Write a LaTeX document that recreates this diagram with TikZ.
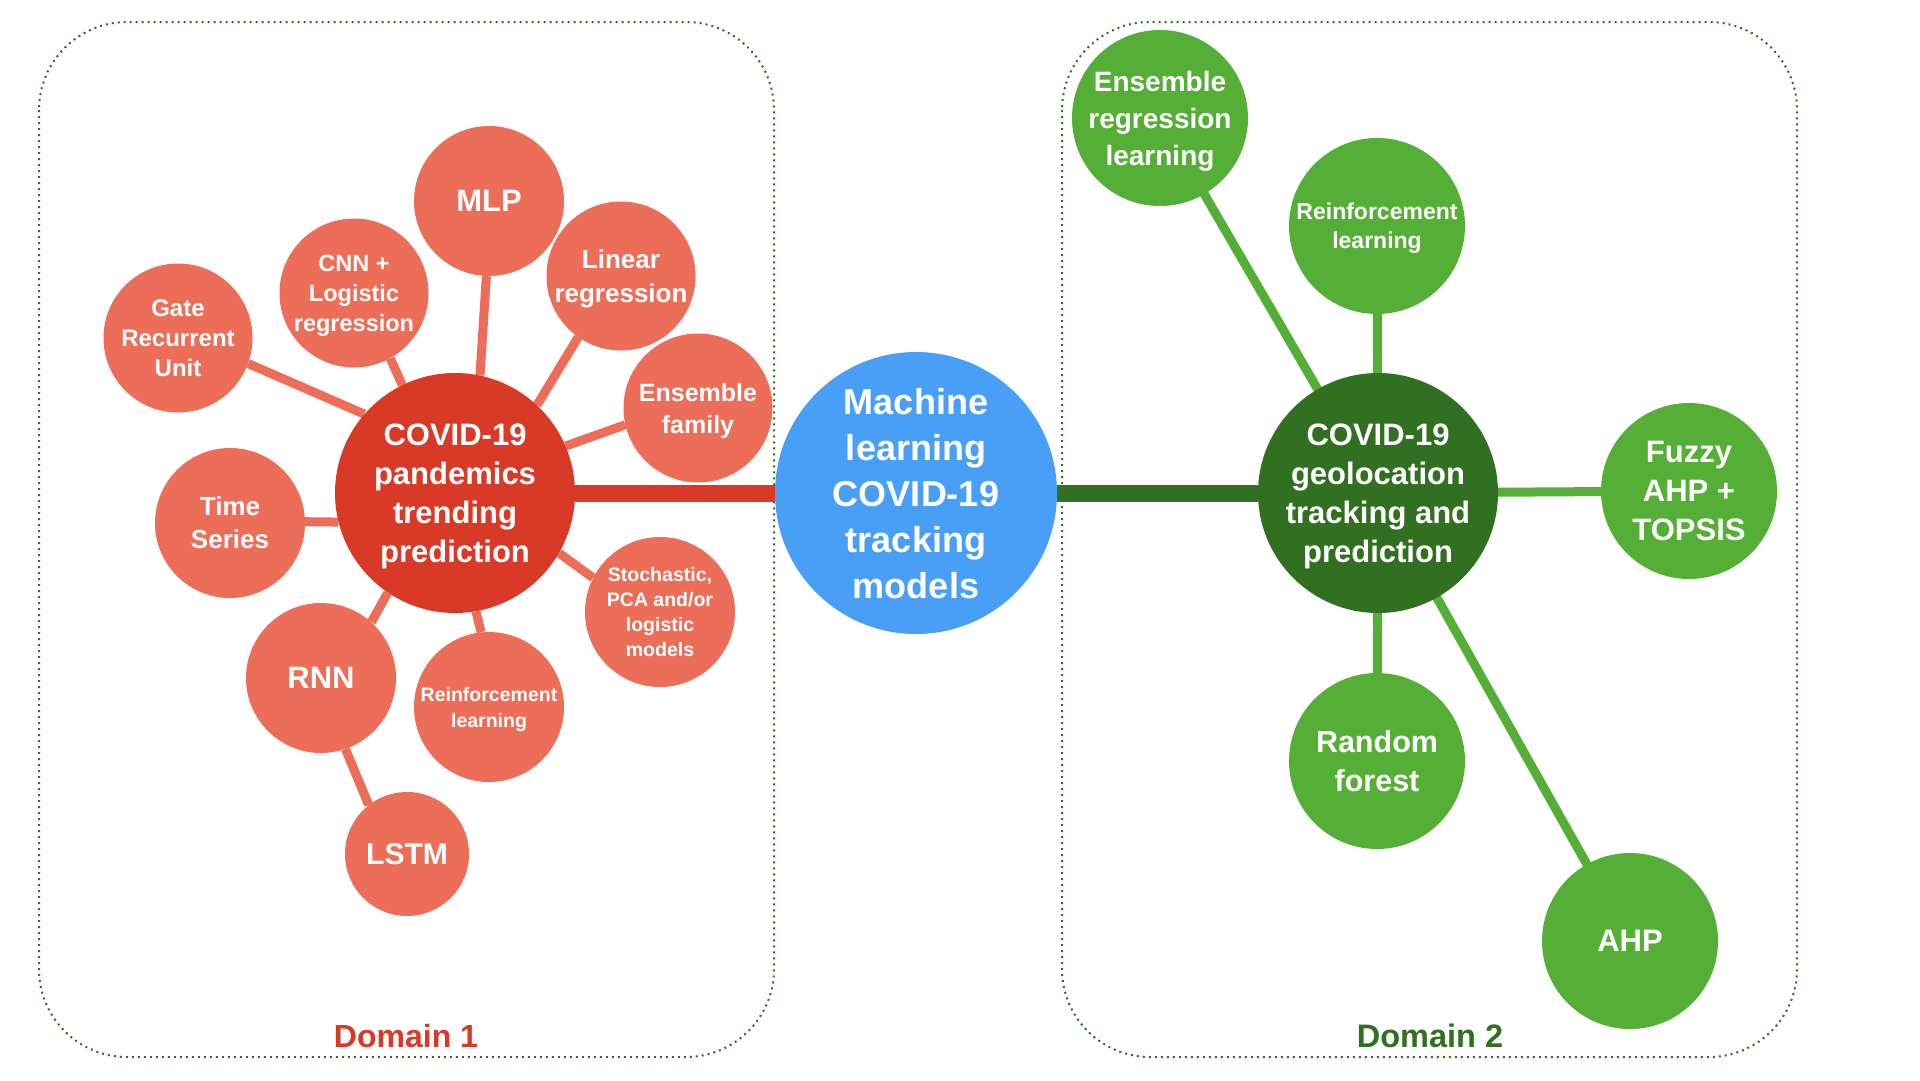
\documentclass[tikz,border=0pt]{standalone}
\usepackage{fontspec}
\setmainfont{Liberation Sans}
\usetikzlibrary{backgrounds}
\definecolor{lred}{HTML}{EC6D58}
\definecolor{dred}{HTML}{D83A27}
\definecolor{mblue}{HTML}{499FF6}
\definecolor{dgreen}{HTML}{316F21}
\definecolor{lgreen}{HTML}{55AE35}
\newcommand\fsz[2]{\fontsize{#1}{#2}\selectfont\bfseries}
\tikzset{
  bub/.style={circle, inner sep=0pt, align=center, text=white, text depth=0pt},
  redleaf/.style={bub, fill=lred, minimum size=149pt},
  greenleaf/.style={bub, fill=lgreen, minimum size=176pt},
  redlink/.style={draw=lred, line width=9pt},
  greenlink/.style={draw=lgreen, line width=9pt},
  domainbox/.style={draw=dgreen, line width=2pt, dash pattern=on 2pt off 4pt, rounded corners=88pt},
}
\begin{document}
\begin{tikzpicture}[x=1pt,y=-1pt]
\useasboundingbox (0,0) rectangle (1920,1080);
% central
\node[bub, fill=mblue, minimum size=282pt, font=\fsz{36}{46}] (ml) at (916,493) {Machine\\learning\\COVID-19\\tracking\\models};
% domain 1
\node[bub, fill=dred, minimum size=240pt, font=\fsz{31}{39}] (c1) at (455,493) {COVID-19\\pandemics\\trending\\prediction};
\node[redleaf, minimum size=150pt, font=\fsz{31}{37}] (mlp) at (489,201) {MLP};
\node[redleaf, font=\fsz{26}{34}] (lin) at (621,276) {Linear\\regression};
\node[redleaf, font=\fsz{23.5}{30}] (cnn) at (354,293) {CNN +\\Logistic\\regression};
\node[redleaf, font=\fsz{24}{30}] (gru) at (178,338) {Gate\\Recurrent\\Unit};
\node[redleaf, font=\fsz{25}{32}] (ens) at (698,408) {Ensemble\\family};
\node[redleaf, minimum size=150pt, font=\fsz{26}{33}] (ts) at (230,523) {Time\\Series};
\node[redleaf, minimum size=150pt, font=\fsz{31}{37}] (rnn) at (321,678) {RNN};
\node[redleaf, minimum size=150pt, font=\fsz{19.5}{26}] (rl1) at (489,707) {Reinforcement\\learning};
\node[redleaf, minimum size=150pt, font=\fsz{19.5}{25}] (sto) at (660,612) {Stochastic,\\PCA and/or\\logistic\\models};
\node[redleaf, minimum size=124pt, font=\fsz{30}{36}] (lstm) at (407,854) {LSTM};
\node[text=dred, font=\fsz{32}{38}] (d1) at (406,1036) {Domain 1};
% domain 2
\node[bub, fill=dgreen, minimum size=240pt, font=\fsz{31}{39}] (c2) at (1378,493) {COVID-19\\geolocation\\tracking and\\prediction};
\node[greenleaf, font=\fsz{28}{37}] (erl) at (1160,118) {Ensemble\\regression\\learning};
\node[greenleaf, font=\fsz{23}{29}] (rl2) at (1377,226) {Reinforcement\\learning};
\node[greenleaf, font=\fsz{31}{39}] (fz) at (1689,491) {Fuzzy\\AHP +\\TOPSIS};
\node[greenleaf, font=\fsz{30.5}{39}] (rf) at (1377,761) {Random\\forest};
\node[greenleaf, font=\fsz{31}{37}] (ahp) at (1630,941) {AHP};
\node[text=dgreen, font=\fsz{32.5}{38}] (d2) at (1430,1036) {Domain 2};
\begin{scope}[on background layer]
  \fill[white] (0,0) rectangle (1920,1080);
  \draw[domainbox] (39,22) rectangle (774,1057);
  \draw[domainbox] (1062,22) rectangle (1797,1057);
  \draw[dred, line width=17pt] (c1) -- (ml);
  \draw[dgreen, line width=17pt] (ml) -- (c2);
  \path[redlink] (c1.78) -- (mlp.268);
  \path[redlink] (c1.47) -- (lin.235);
  \path[redlink] (c1.116) -- (cnn.299);
  \path[redlink] (c1.139) -- (gru.340);
  \path[redlink] (c1.23) -- (ens.193);
  \path[redlink] (c1.194) -- (ts.1);
  \path[redlink] (c1.236) -- (rnn.48);
  \path[redlink] (c1.280) -- (rl1.96);
  \path[redlink] (c1.330) -- (sto.153);
  \path[redlink] (rnn.289) -- (lstm.128);
  \foreach \n in {erl,rl2,fz,rf,ahp} \path[greenlink] (c2.center) -- (\n.center);
\end{scope}
\end{tikzpicture}
\end{document}
